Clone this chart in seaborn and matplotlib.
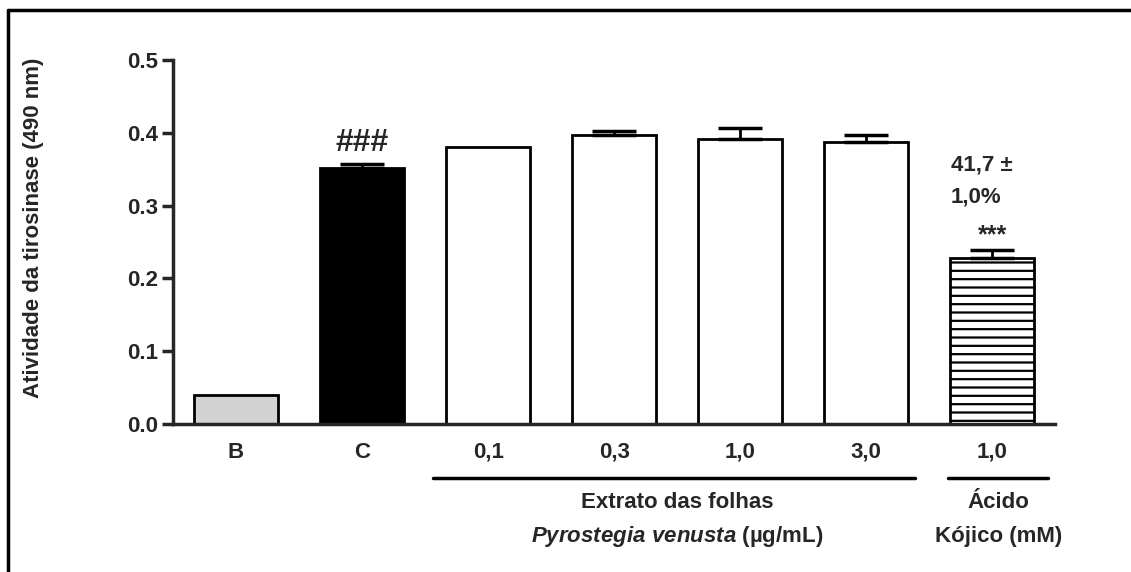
import numpy as np
import matplotlib
matplotlib.use('Agg')
import matplotlib.pyplot as plt
import seaborn as sns
from matplotlib.lines import Line2D
import matplotlib.transforms as mtransforms

groups = ['B', 'C', '0,1', '0,3', '1,0 ', '3,0', '1,0']
tick_labels = ['B', 'C', '0,1', '0,3', '1,0', '3,0', '1,0']
means = [0.040, 0.352, 0.381, 0.397, 0.391, 0.388, 0.228]
sems = [0.0, 0.005, 0.0, 0.005, 0.015, 0.009, 0.011]
colors = ['#d3d3d3', 'black', 'white', 'white', 'white', 'white', 'white']

sns.set_style('ticks')
plt.rcParams['font.family'] = ['Liberation Sans', 'DejaVu Sans']
plt.rcParams['font.weight'] = 'bold'
plt.rcParams['mathtext.fontset'] = 'custom'
plt.rcParams['mathtext.it'] = 'Liberation Sans:italic:bold'
plt.rcParams['mathtext.rm'] = 'Liberation Sans:bold'
plt.rcParams['hatch.linewidth'] = 1.6

fs = 16

fig = plt.figure(figsize=(11.31, 5.72), dpi=100)
ax = fig.add_axes([0.153, 0.259, 0.780, 0.636])

sns.barplot(x=groups, y=means, hue=groups, palette=colors, legend=False,
            errorbar=None, width=0.67, edgecolor='black', linewidth=2,
            saturation=1, ax=ax)
ax.patches[-1].set_hatch('--')

xs = np.arange(len(groups))
has_err = np.array(sems) > 0
ax.errorbar(xs[has_err], np.array(means)[has_err],
            yerr=[np.zeros(has_err.sum()), np.array(sems)[has_err]], fmt='none',
            ecolor='black', elinewidth=2, capsize=16, capthick=2.5, zorder=3)

ax.set_ylim(0, 0.5)
ax.set_xlim(-0.5, 6.5)
ax.set_yticks([0.0, 0.1, 0.2, 0.3, 0.4, 0.5])
ax.set_yticklabels([f'{v:.1f}' for v in ax.get_yticks()], fontsize=fs, fontweight='bold')
ax.set_xticks(xs)
ax.set_xticklabels(tick_labels, fontsize=fs, fontweight='bold')
ax.tick_params(axis='x', length=0, pad=13)
ax.tick_params(axis='y', length=8, width=2.5, pad=3)
ax.set_ylabel('Atividade da tirosinase (490 nm)', fontsize=fs, fontweight='bold')
ax.yaxis.set_label_coords(-0.146, 0.54)
sns.despine(ax=ax)
for s in ['left', 'bottom']:
    ax.spines[s].set_linewidth(2.5)

# significance marks
ax.text(1, means[1] + sems[1] + 0.008, '###', ha='center', va='bottom', fontsize=23)
ax.text(6, means[6] + sems[6] + 0.004, '***', ha='center', va='bottom', fontsize=18)
ax.text(5.67, 0.356, '41,7 ±', ha='left', va='center', fontsize=fs)
ax.text(5.67, 0.312, '1,0%', ha='left', va='center', fontsize=fs)

# group labels below the axis
trans = mtransforms.blended_transform_factory(ax.transData, ax.transAxes)
ax.plot([1.56, 5.39], [-0.148, -0.148], color='black', lw=2.5, transform=trans, clip_on=False)
ax.plot([5.65, 6.44], [-0.148, -0.148], color='black', lw=2.5, transform=trans, clip_on=False)
ax.text(3.5, -0.215, 'Extrato das folhas', ha='center', va='center', fontsize=fs, transform=trans)
ax.text(3.5, -0.31, r'$\mathit{Pyrostegia\ venusta}$ (µg/mL)', ha='center', va='center',
        fontsize=fs, transform=trans)
ax.text(6.05, -0.215, 'Ácido', ha='center', va='center', fontsize=fs, transform=trans)
ax.text(6.05, -0.31, 'Kójico (mM)', ha='center', va='center', fontsize=fs, transform=trans)

# frame at the left and top of the figure
fig.add_artist(Line2D([8 / 1131, 8 / 1131], [0, 1 - 10 / 572], color='black', lw=2.5))
fig.add_artist(Line2D([8 / 1131, 1], [1 - 10 / 572, 1 - 10 / 572], color='black', lw=2.5))

fig.savefig('out.png', dpi=100)
